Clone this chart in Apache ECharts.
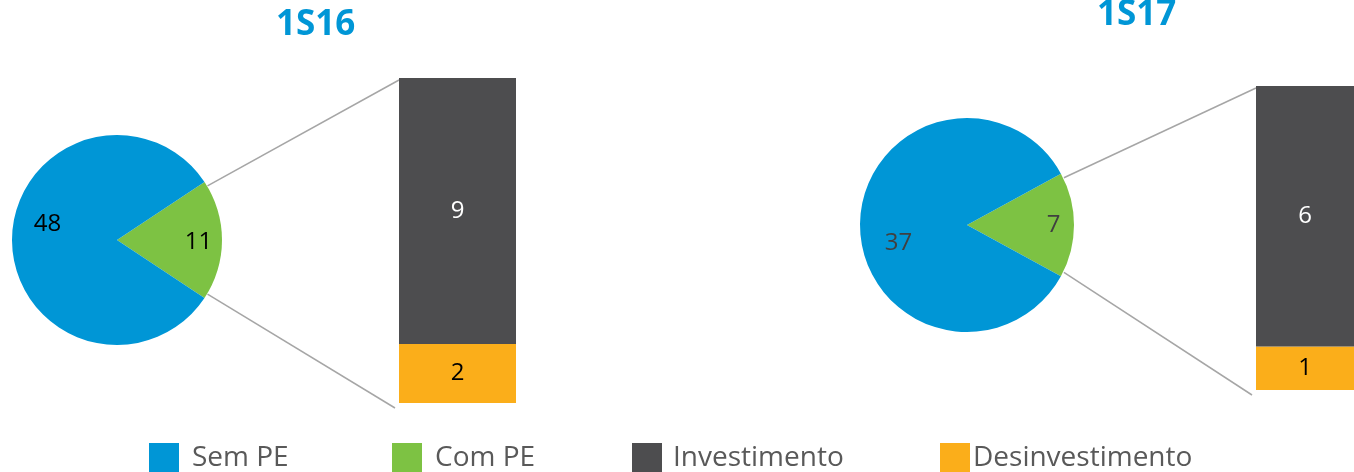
<!DOCTYPE html>
<html>
<head>
<meta charset="utf-8">
<script src="https://cdn.jsdelivr.net/npm/echarts@6/dist/echarts.min.js"></script>
<style>
  html, body { margin: 0; padding: 0; background: #fff; }
  #chart { width: 1354px; height: 472px; }
</style>
</head>
<body>
<div id="chart"></div>
<script>
// data
const periods = ['1S16', '1S17'];
const pieNames = ['Sem PE', 'Com PE'];
const semPE = [48, 37];
const comPE = [11, 7];
const barNames = ['Investimento', 'Desinvestimento'];
const investimento = [9, 6];
const desinvestimento = [2, 1];

const colors = {
  'Sem PE': '#0096D6',
  'Com PE': '#7DC243',
  'Investimento': '#4D4D4F',
  'Desinvestimento': '#FBAE1A'
};
const font = '"Open Sans", "Liberation Sans", sans-serif';

// layout of the two panels
const pies = [
  { center: [117, 240], r: 105, label: '#000', offSem: [-14, -16], offCom: [26, 2] },
  { center: [967, 225], r: 107, label: '#404040', offSem: [-12, 18], offCom: [30, 0] }
];
const grids = [
  { left: 399, top: 78, width: 117, height: 325 },
  { left: 1256, top: 86, width: 98, height: 304 }
];
const titlePos = [{ left: 276, top: 8 }, { left: 1097, top: -2 }];

const chart = echarts.init(document.getElementById('chart'));

// green slice is centred on the right-hand side
function halfAngle(i) {
  return comPE[i] / (comPE[i] + semPE[i]) * 180;
}

const series = [];
periods.forEach((p, i) => {
  const pc = pies[i];
  series.push({
    type: 'pie',
    name: p,
    center: pc.center,
    radius: [0, pc.r],
    startAngle: halfAngle(i),
    clockwise: true,
    silent: true,
    label: {
      show: true,
      position: 'inside',
      formatter: '{c}',
      fontFamily: font,
      fontSize: 24,
      color: pc.label
    },
    labelLine: { show: false },
    data: [
      { name: 'Com PE', value: comPE[i], itemStyle: { color: colors['Com PE'] }, label: { offset: pc.offCom } },
      { name: 'Sem PE', value: semPE[i], itemStyle: { color: colors['Sem PE'] }, label: { offset: pc.offSem } }
    ]
  });
  series.push({
    type: 'bar',
    name: 'Desinvestimento',
    stack: 's' + i,
    xAxisIndex: i,
    yAxisIndex: i,
    barWidth: '100%',
    silent: true,
    itemStyle: { color: colors['Desinvestimento'] },
    label: { show: true, position: 'inside', fontFamily: font, fontSize: 24, color: '#000' },
    data: [desinvestimento[i]]
  });
  series.push({
    type: 'bar',
    name: 'Investimento',
    stack: 's' + i,
    xAxisIndex: i,
    yAxisIndex: i,
    barWidth: '100%',
    silent: true,
    itemStyle: { color: colors['Investimento'] },
    label: { show: true, position: 'inside', fontFamily: font, fontSize: 24, color: '#fff' },
    data: [investimento[i]]
  });
});

const legendLeft = [149, 392, 632, 940];
const legendPad = [8, 8, 6, -2];
const legendNames = pieNames.concat(barNames);

chart.setOption({
  animation: false,
  title: periods.map((p, i) => ({
    text: p,
    left: titlePos[i].left,
    top: titlePos[i].top,
    padding: 0,
    textStyle: { fontFamily: font, fontSize: 35, fontWeight: 'bold', color: '#0096D6' }
  })),
  legend: legendNames.map((n, i) => ({
    data: [n],
    left: legendLeft[i],
    top: 443,
    padding: 0,
    icon: 'rect',
    itemWidth: 30,
    itemHeight: 30,
    selectedMode: false,
    textStyle: { fontFamily: font, fontSize: 28, color: '#595959', padding: [0, 0, 0, legendPad[i]] }
  })),
  grid: grids,
  xAxis: grids.map((g, i) => ({
    type: 'category',
    gridIndex: i,
    data: [periods[i]],
    show: false
  })),
  yAxis: grids.map((g, i) => ({
    type: 'value',
    gridIndex: i,
    min: 0,
    max: investimento[i] + desinvestimento[i],
    show: false
  })),
  series: series
});

// connector lines from the green slice to the bar
const lines = [];
periods.forEach((p, i) => {
  const pc = pies[i];
  const a = halfAngle(i) * Math.PI / 180;
  const px = pc.center[0] + pc.r * Math.cos(a);
  const pyTop = pc.center[1] - pc.r * Math.sin(a);
  const pyBot = pc.center[1] + pc.r * Math.sin(a);
  const total = investimento[i] + desinvestimento[i];
  const yTop = chart.convertToPixel({ yAxisIndex: i }, total);
  const yBot = chart.convertToPixel({ yAxisIndex: i }, 0);
  const bx = grids[i].left;
  lines.push({
    type: 'line',
    shape: { x1: px + 3, y1: pyTop + 4, x2: bx, y2: yTop + 2 },
    style: { stroke: '#A6A6A6', lineWidth: 1.5 },
    silent: true
  });
  lines.push({
    type: 'line',
    shape: { x1: px + 3, y1: pyBot - 4, x2: bx - 4, y2: yBot + 5 },
    style: { stroke: '#A6A6A6', lineWidth: 1.5 },
    silent: true
  });
});
chart.setOption({ graphic: lines });
</script>
</body>
</html>
